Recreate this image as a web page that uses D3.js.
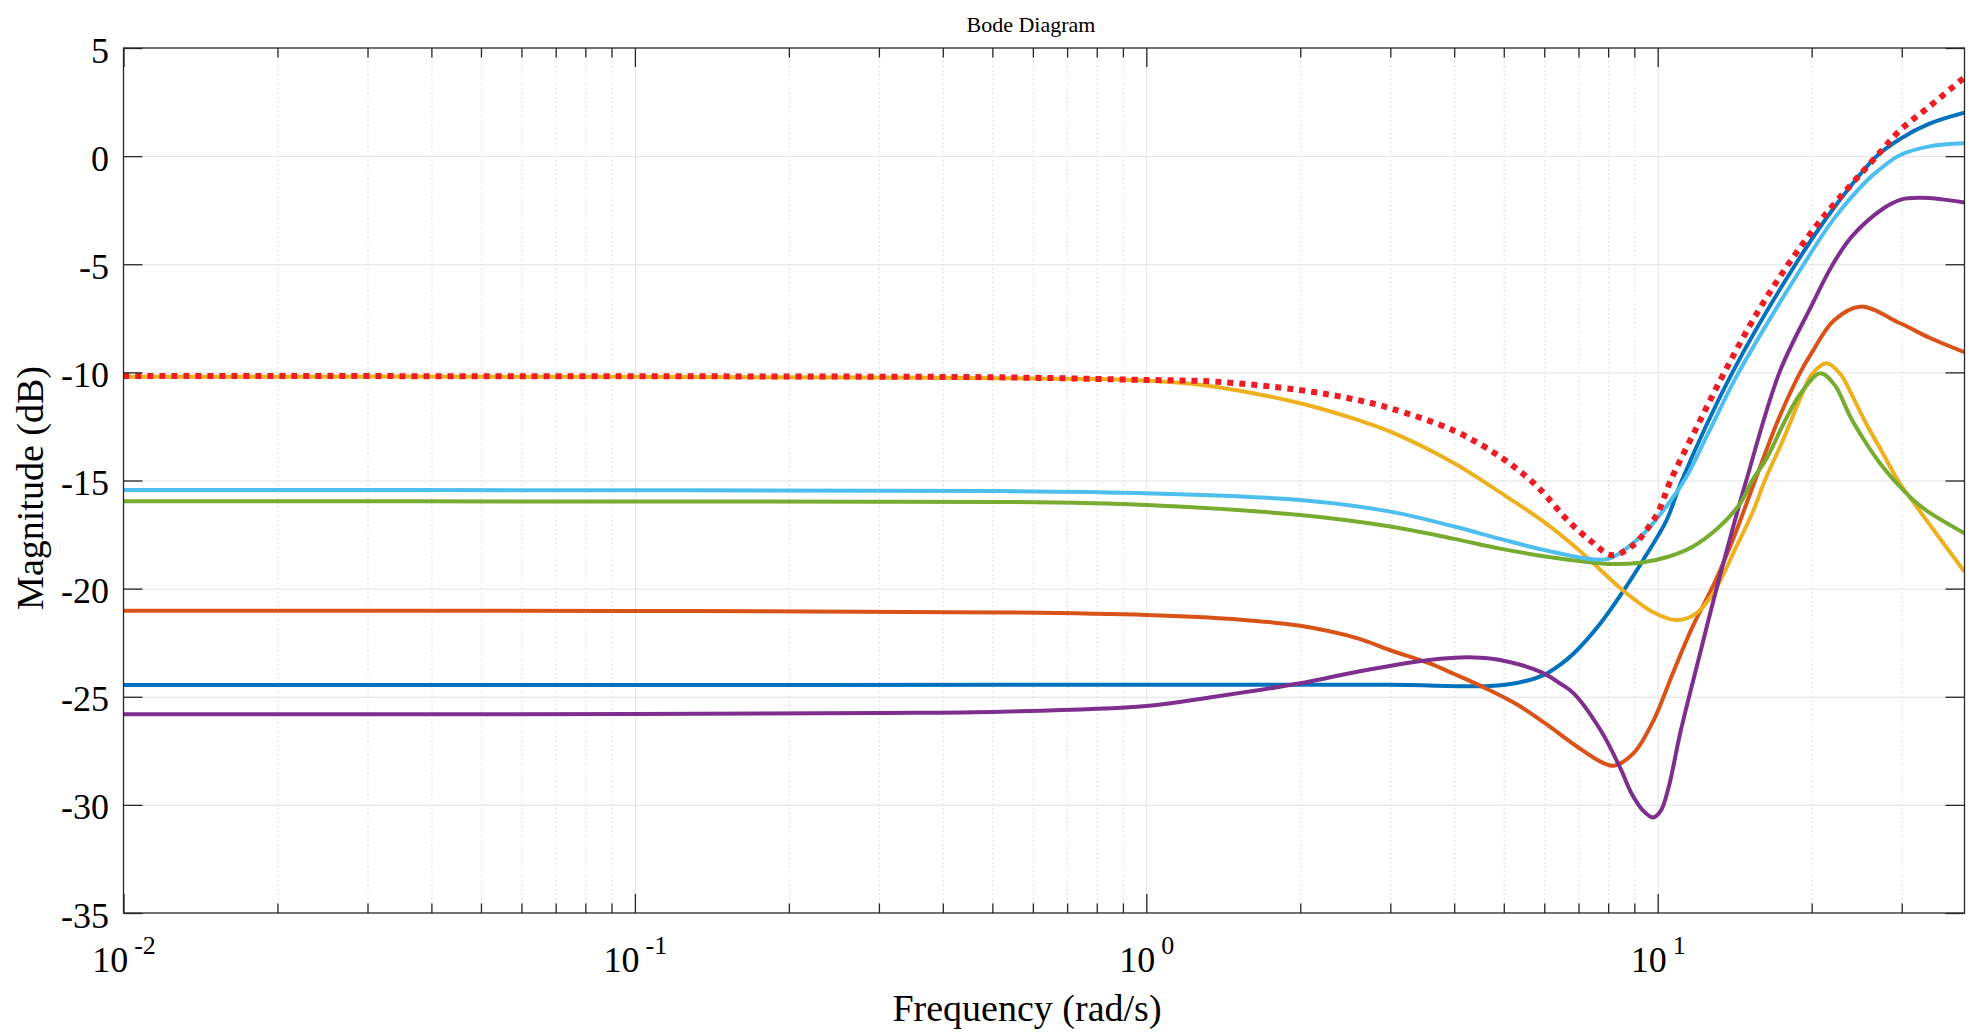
<!DOCTYPE html>
<html>
<head>
<meta charset="utf-8">
<script src="https://cdn.jsdelivr.net/npm/d3@7"></script>
<style>
  html, body { margin: 0; padding: 0; background: #ffffff; }
  svg { display: block; }
</style>
</head>
<body>
<svg id="chart" width="1988" height="1034"></svg>
<script>
// ---------------- data (frequency in rad/s, magnitude in dB) ----------------
const blueFreq = [0.01, 0.1, 1, 3, 4.69, 5.33, 5.98, 6.46, 6.85, 7.73, 8.57, 9.38, 10.4, 11.1, 14.0, 18.6, 22.1, 26.8, 29.8, 34, 39.8];
const blueMag  = [-24.46, -24.46, -24.44, -24.45, -24.5, -24.35, -24.0, -23.5, -23.0, -21.6, -20.1, -18.65, -16.85, -15.1, -10.0, -5.0, -2.4, 0.0, 0.8, 1.5, 2.01];

const orangeFreq = [0.01, 0.1, 0.52, 1, 1.5, 2, 2.59, 3, 3.57, 4, 4.6, 5.3, 6, 6.95, 7.73, 8.2, 8.97, 9.82, 10.7, 11.7, 12.9, 14.1, 15.5, 17.2, 19, 20, 22.1, 24.9, 29.8, 34, 39.8];
const orangeMag  = [-21.02, -21.03, -21.1, -21.22, -21.42, -21.72, -22.3, -22.85, -23.45, -23.95, -24.6, -25.35, -26.2, -27.3, -28.0, -28.19, -27.61, -26.08, -23.92, -21.76, -19.76, -17.6, -15.0, -12.2, -10.0, -9.1, -7.6, -6.96, -7.73, -8.4, -9.07];

const yellowFreq = [0.01, 0.1, 0.3, 0.52, 1, 1.36, 2, 2.59, 3, 4, 4.92, 5.98, 7.0, 7.5, 8.57, 9.82, 10.9, 11.9, 12.9, 14.1, 15.4, 16.2, 17.6, 19, 20, 21.4, 22.8, 23.8, 25.6, 27.2, 29.5, 31.6, 39.8];
const yellowMag  = [-10.2, -10.2, -10.24, -10.27, -10.38, -10.66, -11.43, -12.2, -12.74, -14.2, -15.55, -16.9, -18.2, -18.85, -20.1, -21.1, -21.45, -21.14, -20.14, -18.29, -16.36, -15.0, -13.1, -11.2, -10.1, -9.58, -10.1, -10.9, -12.4, -13.5, -15.0, -16.0, -19.22];

const purpleFreq = [0.01, 0.1, 0.3, 0.52, 1, 1.36, 2, 2.59, 3.57, 4.36, 4.92, 5.9, 6.46, 6.85, 7.73, 8.45, 8.9, 9.35, 9.79, 10.15, 10.5, 11.1, 12.1, 12.9, 14.1, 14.9, 17.3, 20, 22, 24, 27.7, 30, 32.6, 36, 39.8];
const purpleMag  = [-25.81, -25.8, -25.75, -25.69, -25.43, -25.0, -24.38, -23.84, -23.3, -23.18, -23.3, -23.85, -24.4, -24.84, -26.54, -28.3, -29.5, -30.25, -30.58, -30.25, -29.2, -26.54, -23.0, -20.4, -17.0, -15.0, -10.0, -6.9, -5.0, -3.7, -2.4, -2.0, -1.93, -2.0, -2.14];

const greenFreq = [0.01, 0.1, 0.52, 1, 2, 3, 4, 4.92, 5.98, 7.5, 8.06, 9.25, 10.4, 11.7, 13.1, 14.5, 15.3, 16.4, 17.6, 19, 20.8, 22.2, 23.8, 25.6, 27.2, 29.8, 31.6, 33.6, 39.8];
const greenMag  = [-15.96, -15.97, -15.99, -16.13, -16.6, -17.13, -17.7, -18.15, -18.5, -18.8, -18.86, -18.8, -18.55, -18.06, -17.21, -16.06, -15.0, -13.9, -12.4, -11.0, -10.04, -10.6, -12.05, -13.3, -14.2, -15.3, -15.9, -16.4, -17.44];

const lightBlueFreq = [0.01, 0.1, 0.52, 1, 2, 3, 4, 4.92, 5.98, 7.5, 8.06, 9.25, 10.4, 11.4, 12.5, 14.4, 19.3, 22.1, 25.6, 27.2, 29.8, 34, 39.8];
const lightBlueMag  = [-15.44, -15.45, -15.49, -15.59, -15.9, -16.44, -17.13, -17.7, -18.21, -18.65, -18.6, -17.6, -16.2, -14.8, -12.9, -10.0, -5.0, -2.9, -1.15, -0.6, 0.05, 0.45, 0.59];

const redFreq = [0.01, 0.1, 0.3, 0.52, 1, 1.36, 2, 2.59, 3, 4, 4.92, 5.71, 6.07, 6.64, 7.4, 8.13, 8.97, 9.5, 10, 10.6, 12, 13.5, 15.6, 18, 21.1, 26.8, 29.8, 34, 39.8];
const redMag  = [-10.17, -10.18, -10.2, -10.23, -10.35, -10.43, -10.82, -11.28, -11.66, -12.7, -13.9, -15.1, -15.75, -16.8, -17.8, -18.45, -17.98, -17.3, -16.5, -15.0, -12.4, -10.0, -7.3, -5.0, -2.8, 0.0, 1.2, 2.3, 3.64];

const xTickValues = [0.01, 0.1, 1, 10];
const xTickExponents = ["-2", "-1", "0", "1"];
const yTickValues = [5, 0, -5, -10, -15, -20, -25, -30, -35];
const xDomain = [0.01, 39.8];
const yDomain = [-35, 5];

const titleText = "Bode Diagram";
const xLabelText = "Frequency (rad/s)";
const yLabelText = "Magnitude (dB)";

// ---------------- layout ----------------
const L = 123.5, R = 1964.5, T = 48, B = 913;
const FONT = "'Liberation Serif', 'Times New Roman', Times, serif";
const svg = d3.select("#chart");

const x = d3.scaleLog().domain(xDomain).range([L, R]);
const y = d3.scaleLinear().domain(yDomain).range([B, T]);

// minor tick values
const minorTicks = [];
[0.01, 0.1, 1, 10].forEach(d => { for (let k = 2; k <= 9; k++) { const v = k * d; if (v <= xDomain[1]) minorTicks.push(+v.toPrecision(6)); } });

// ---------------- grid ----------------
const grid = svg.append("g");
grid.append("g").attr("transform", `translate(${L},0)`)
  .call(d3.axisLeft(y).tickValues(yTickValues.filter(v => v > yDomain[0] && v < yDomain[1])).tickSize(-(R - L)).tickFormat(""))
  .call(g => g.select(".domain").remove())
  .call(g => g.selectAll("line").attr("stroke", "#e3e3e3").attr("stroke-width", 1));
grid.append("g").attr("transform", `translate(0,${B})`)
  .call(d3.axisBottom(x).tickValues(xTickValues.filter(v => v > xDomain[0])).tickSize(-(B - T)).tickFormat(""))
  .call(g => g.select(".domain").remove())
  .call(g => g.selectAll("line").attr("stroke", "#e3e3e3").attr("stroke-width", 1));
grid.append("g").attr("transform", `translate(0,${B})`)
  .call(d3.axisBottom(x).tickValues(minorTicks).tickSize(-(B - T)).tickFormat(""))
  .call(g => g.select(".domain").remove())
  .call(g => g.selectAll("line").attr("stroke", "#d6d6d6").attr("stroke-width", 1).attr("stroke-dasharray", "1.5,3"));

// ---------------- curves ----------------
svg.append("defs").append("clipPath").attr("id", "plotclip")
  .append("rect").attr("x", L).attr("y", T).attr("width", R - L).attr("height", B - T);

const line = d3.line().x(d => x(d[0])).y(d => y(d[1])).curve(d3.curveCatmullRom.alpha(0.5));
const series = [
  { f: blueFreq, m: blueMag, color: "#0072BD", w: 4 },
  { f: orangeFreq, m: orangeMag, color: "#D95319", w: 4 },
  { f: yellowFreq, m: yellowMag, color: "#EDB120", w: 4 },
  { f: purpleFreq, m: purpleMag, color: "#7E2F8E", w: 4 },
  { f: greenFreq, m: greenMag, color: "#77AC30", w: 4 },
  { f: lightBlueFreq, m: lightBlueMag, color: "#4DBEEE", w: 4 },
  { f: redFreq, m: redMag, color: "#EE1C24", w: 6, dash: "6,6" }
];
const plot = svg.append("g").attr("clip-path", "url(#plotclip)");
series.forEach(s => {
  const pts = s.f.map((f, i) => [f, s.m[i]]);
  plot.append("path").datum(pts)
    .attr("d", line)
    .attr("fill", "none")
    .attr("stroke", s.color)
    .attr("stroke-width", s.w)
    .attr("stroke-linejoin", "round")
    .attr("stroke-linecap", "butt")
    .attr("stroke-dasharray", s.dash || null);
});

// ---------------- axes / ticks ----------------
const AX = "#262626";
const styleTicks = g => { g.select(".domain").remove(); g.selectAll(".tick line").attr("stroke", AX).attr("stroke-width", 1.3); };

const xAxisG = svg.append("g").attr("transform", `translate(0,${B})`)
  .call(d3.axisBottom(x).tickValues(xTickValues).tickSize(-19).tickFormat(() => ""))
  .call(styleTicks);
xAxisG.selectAll(".tick text").each(function (d, i) {
  const t = d3.select(this);
  t.text(null).attr("y", 59).attr("dy", null)
    .attr("fill", "#000").attr("font-family", FONT).attr("font-size", 36).attr("text-anchor", "middle");
  t.append("tspan").text("10");
  t.append("tspan").attr("dx", 6).attr("dy", -18).attr("font-size", 26).text(xTickExponents[i]);
});
svg.append("g").attr("transform", `translate(0,${B})`)
  .call(d3.axisBottom(x).tickValues(minorTicks).tickSize(-9.5).tickFormat(""))
  .call(styleTicks);
svg.append("g").attr("transform", `translate(0,${T})`)
  .call(d3.axisTop(x).tickValues(xTickValues).tickSize(-19).tickFormat(""))
  .call(styleTicks);
svg.append("g").attr("transform", `translate(0,${T})`)
  .call(d3.axisTop(x).tickValues(minorTicks).tickSize(-9.5).tickFormat(""))
  .call(styleTicks);
const yAxisG = svg.append("g").attr("transform", `translate(${L},0)`)
  .call(d3.axisLeft(y).tickValues(yTickValues).tickSize(-19).tickFormat(d => String(d)))
  .call(styleTicks);
yAxisG.selectAll(".tick text")
  .attr("x", -14.5).attr("dy", null).attr("y", 14)
  .attr("fill", "#000").attr("font-family", FONT).attr("font-size", 36).attr("text-anchor", "end");
svg.append("g").attr("transform", `translate(${R},0)`)
  .call(d3.axisRight(y).tickValues(yTickValues).tickSize(-19).tickFormat(""))
  .call(styleTicks);

svg.append("rect").attr("x", L).attr("y", T).attr("width", R - L).attr("height", B - T)
  .attr("fill", "none").attr("stroke", AX).attr("stroke-width", 1.3);

// ---------------- texts ----------------
svg.append("text").attr("x", 1031).attr("y", 32).attr("text-anchor", "middle")
  .attr("font-family", FONT).attr("font-size", 22).attr("fill", "#000").text(titleText);
svg.append("text").attr("x", 1027).attr("y", 1021).attr("text-anchor", "middle")
  .attr("font-family", FONT).attr("font-size", 38).attr("fill", "#000").text(xLabelText);
svg.append("text").attr("transform", "translate(43,488) rotate(-90)").attr("text-anchor", "middle")
  .attr("font-family", FONT).attr("font-size", 38).attr("fill", "#000").text(yLabelText);
</script>
</body>
</html>
